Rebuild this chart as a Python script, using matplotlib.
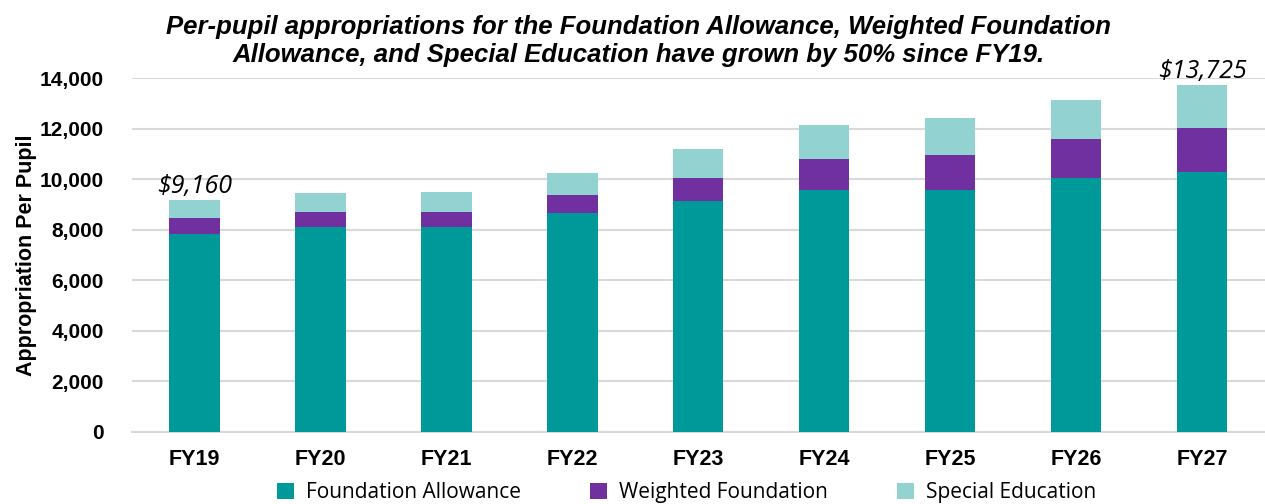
import matplotlib.pyplot as plt
import numpy as np

years = ["FY19", "FY20", "FY21", "FY22", "FY23", "FY24", "FY25", "FY26", "FY27"]
foundation = [7850, 8100, 8100, 8680, 9150, 9590, 9590, 10060, 10300]
weighted = [610, 600, 620, 700, 900, 1200, 1350, 1550, 1730]
special_ed = [700, 760, 790, 870, 1160, 1370, 1470, 1540, 1695]
labels = {0: "$9,160", 8: "$13,725"}

TEAL = "#00999A"
PURPLE = "#7030A0"
LIGHT = "#92D2D0"

fig = plt.figure(figsize=(12.65, 5.04), dpi=100)
ax = fig.add_axes([0.104, 0.143, 0.896, 0.702])

x = np.arange(len(years))
w = 0.4
fa = np.array(foundation)
wf = np.array(weighted)
se = np.array(special_ed)
ax.bar(x, fa, w, color=TEAL, label="Foundation Allowance", zorder=3)
ax.bar(x, wf, w, bottom=fa, color=PURPLE, label="Weighted Foundation", zorder=3)
ax.bar(x, se, w, bottom=fa + wf, color=LIGHT, label="Special Education", zorder=3)

# totals on first and last bar
totals = fa + wf + se
for i, txt in labels.items():
    ax.text(x[i], totals[i] + 60, txt, ha="center", va="bottom",
            fontsize=18, style="italic", family="Open Sans", zorder=4)

ax.set_xlim(-0.5, len(years) - 0.5)
ax.set_ylim(0, 14000)
ax.set_yticks(range(0, 14001, 2000))
ax.set_yticklabels([f"{v:,}" for v in range(0, 14001, 2000)],
                   fontsize=15, fontweight="bold", family="Liberation Sans")
ax.set_xticks(x)
ax.set_xticklabels(years, fontsize=15.5, fontweight="bold", family="Liberation Sans")
ax.tick_params(axis="both", length=0)
ax.tick_params(axis="x", pad=12)
ax.tick_params(axis="y", pad=20)
ax.grid(axis="y", color="#d9d9d9", linewidth=1.5, zorder=0)
for s in ["top", "right", "left"]:
    ax.spines[s].set_visible(False)
ax.spines["bottom"].set_color("#d9d9d9")
ax.spines["bottom"].set_linewidth(1.5)

ax.set_ylabel("Appropriation Per Pupil", fontsize=15.5, fontweight="bold",
              family="Liberation Sans", labelpad=2)

fig.text(0.505, 0.97, "Per-pupil appropriations for the Foundation Allowance, Weighted Foundation\n"
         "Allowance, and Special Education have grown by 50% since FY19.",
         ha="center", va="top", fontsize=18.5, fontweight="bold", style="italic",
         family="Liberation Sans", linespacing=1.2)

leg = fig.legend(loc="lower center", bbox_to_anchor=(0.543, -0.035), ncol=3, frameon=False,
                 prop={"family": "Open Sans", "size": 15}, handlelength=0.8,
                 handleheight=0.8, columnspacing=3.3, handletextpad=0.6)

plt.savefig("out.png", dpi=100)
